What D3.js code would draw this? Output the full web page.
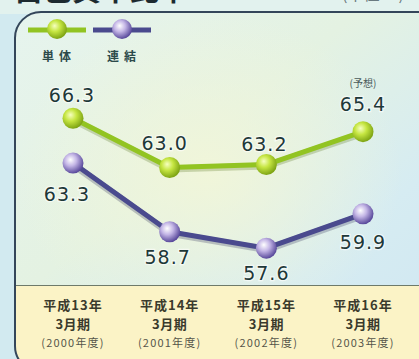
<!DOCTYPE html>
<html><head><meta charset="utf-8">
<script src="https://cdn.jsdelivr.net/npm/d3@7"></script>
<style>html,body{margin:0;padding:0;background:#d6ecf0;overflow:hidden}</style>
</head><body>
<script>
const categories = ["平成13年","平成14年","平成15年","平成16年"];
const periodLabels = ["3月期","3月期","3月期","3月期"];
const fiscalLabels = ["(2000年度)","(2001年度)","(2002年度)","(2003年度)"];
const seriesNames = ["単体","連結"];
const tantai = [66.3, 63.0, 63.2, 65.4];
const renketsu = [63.3, 58.7, 57.6, 59.9];
const noteLabel = "(予想)";

const W = 419, H = 359;
const svg = d3.select("body").append("svg").attr("width", W).attr("height", H);
const defs = svg.append("defs");

const bg = defs.append("linearGradient").attr("id","bg").attr("x1",0).attr("y1",0).attr("x2",1).attr("y2",1);
bg.append("stop").attr("offset","0%").attr("stop-color","#e6f4ee");
bg.append("stop").attr("offset","40%").attr("stop-color","#e4f2e2");
bg.append("stop").attr("offset","70%").attr("stop-color","#d6ecf2");
bg.append("stop").attr("offset","100%").attr("stop-color","#cfe6f2");
const blob = defs.append("radialGradient").attr("id","blob").attr("cx","45%").attr("cy","45%").attr("r","45%");
blob.append("stop").attr("offset","0%").attr("stop-color","#f2f6d8").attr("stop-opacity",0.9);
blob.append("stop").attr("offset","100%").attr("stop-color","#f2f6d8").attr("stop-opacity",0);

function ball(id, c0, c1, c2) {
  const g = defs.append("radialGradient").attr("id", id).attr("cx","40%").attr("cy","38%").attr("r","62%").attr("fx","38%").attr("fy","34%");
  g.append("stop").attr("offset","0%").attr("stop-color", c0);
  g.append("stop").attr("offset","45%").attr("stop-color", c1);
  g.append("stop").attr("offset","100%").attr("stop-color", c2);
}
ball("gBall", "#f6ffc0", "#c6e642", "#7ea414");
ball("pBall", "#ffffff", "#c4b6e6", "#5a4a9c");

// outer background
svg.append("rect").attr("width",W).attr("height",H).attr("fill","#d2eaf0");
svg.append("rect").attr("x",0).attr("y",0).attr("width",W).attr("height",14).attr("fill","#e2f2ee");

// title (cut off at top, as in the reference)
svg.append("text").attr("x",14).attr("y",1).attr("font-family","Noto Sans CJK JP").attr("font-weight","bold")
  .attr("font-size",29).attr("fill","#1c2a30").text("自己資本比率");
svg.append("text").attr("x",342).attr("y",0).attr("font-family","Noto Sans CJK JP")
  .attr("font-size",16).attr("fill","#6a7a80").text("(単位:%)");

// panel
const px = 15, py = 12, pw = 430, ph = 360;
const clip = defs.append("clipPath").attr("id","pclip");
clip.append("rect").attr("x",px).attr("y",py).attr("width",pw).attr("height",ph).attr("rx",26);
const panel = svg.append("g").attr("clip-path","url(#pclip)");
panel.append("rect").attr("x",px).attr("y",py).attr("width",pw).attr("height",ph).attr("fill","url(#bg)");
panel.append("rect").attr("x",px).attr("y",py).attr("width",pw).attr("height",ph).attr("fill","url(#blob)");
panel.append("rect").attr("x",px).attr("y",285).attr("width",pw).attr("height",100).attr("fill","#fbf3c6");
panel.append("line").attr("x1",px).attr("x2",px+pw).attr("y1",285.5).attr("y2",285.5).attr("stroke","#6e7a6a").attr("stroke-width",1.2);
svg.append("rect").attr("x",px).attr("y",py).attr("width",pw).attr("height",ph).attr("rx",26)
  .attr("fill","none").attr("stroke","#34465a").attr("stroke-width",2);

// scales
const x = d3.scalePoint().domain(categories).range([73, 363]);
const y = d3.scaleLinear().domain([55, 70]).range([287, 63]);

const line = d3.line().x((d,i)=>x(categories[i])).y(d=>y(d));

function drawSeries(vals, color, grad, shadow) {
  svg.append("path").datum(vals).attr("d", line).attr("fill","none")
    .attr("stroke", shadow).attr("stroke-width",7).attr("stroke-opacity",0.25).attr("stroke-linejoin","round")
    .attr("transform","translate(0,1.5)");
  svg.append("path").datum(vals).attr("d", line).attr("fill","none")
    .attr("stroke", color).attr("stroke-width",5).attr("stroke-linejoin","round");
  svg.selectAll(null).data(vals).enter().append("circle")
    .attr("cx",(d,i)=>x(categories[i])).attr("cy",d=>y(d)).attr("r",10.5)
    .attr("fill","url(#"+grad+")");
}
drawSeries(tantai, "#92c422", "gBall", "#4a6a10");
drawSeries(renketsu, "#4a4a8e", "pBall", "#202050");

// value labels
const gOff = [[-1,-23],[-5,-25],[-2,-21],[0,-28]];
const pOff = [[-6,31],[-2,25],[0,25],[0,28]];
function labels(vals, offs) {
  svg.selectAll(null).data(vals).enter().append("text")
    .attr("x",(d,i)=>x(categories[i])+offs[i][0]).attr("y",(d,i)=>y(d)+offs[i][1])
    .attr("text-anchor","middle").attr("dominant-baseline","central")
    .attr("font-family","DejaVu Sans").attr("font-size",19).attr("letter-spacing",1)
    .attr("fill","#1e3838").attr("stroke","#ffffff").attr("stroke-width",2.5).attr("stroke-opacity",0.6)
    .attr("paint-order","stroke").text(d=>d.toFixed(1));
}
labels(tantai, gOff);
labels(renketsu, pOff);
svg.append("text").attr("x",x(categories[3])).attr("y",82).attr("text-anchor","middle").attr("dominant-baseline","central")
  .attr("font-family","Noto Sans CJK JP").attr("font-size",10).attr("fill","#4a5a5a").text(noteLabel);

// legend
const legend = [{name:seriesNames[0], cx:57, color:"#92c422", grad:"gBall"},{name:seriesNames[1], cx:122, color:"#4a4a8e", grad:"pBall"}];
legend.forEach(l=>{
  svg.append("line").attr("x1",l.cx-29).attr("x2",l.cx+29).attr("y1",30).attr("y2",30).attr("stroke",l.color).attr("stroke-width",5);
  svg.append("circle").attr("cx",l.cx).attr("cy",29).attr("r",10).attr("fill","url(#"+l.grad+")");
  svg.append("text").attr("x",l.cx+2).attr("y",55).attr("text-anchor","middle").attr("dominant-baseline","central")
    .attr("font-family","Noto Sans CJK JP").attr("font-weight","bold").attr("font-size",12).attr("letter-spacing",5)
    .attr("fill","#2c4a4a").text(l.name);
});

// category labels
categories.forEach((c,i)=>{
  const cx = x(c);
  svg.append("text").attr("x",cx).attr("y",304).attr("text-anchor","middle").attr("dominant-baseline","central")
    .attr("font-family","Noto Sans CJK JP").attr("font-weight","bold").attr("font-size",13).attr("letter-spacing",1)
    .attr("fill","#3a3a2c").text(c);
  svg.append("text").attr("x",cx).attr("y",323).attr("text-anchor","middle").attr("dominant-baseline","central")
    .attr("font-family","Noto Sans CJK JP").attr("font-weight","bold").attr("font-size",13).attr("letter-spacing",0.5)
    .attr("fill","#3a3a2c").text(periodLabels[i]);
  svg.append("text").attr("x",cx).attr("y",342).attr("text-anchor","middle").attr("dominant-baseline","central")
    .attr("font-family","Noto Sans CJK JP").attr("font-size",11).attr("letter-spacing",1.2)
    .attr("fill","#55554a").text(fiscalLabels[i]);
});
</script>
</body></html>
